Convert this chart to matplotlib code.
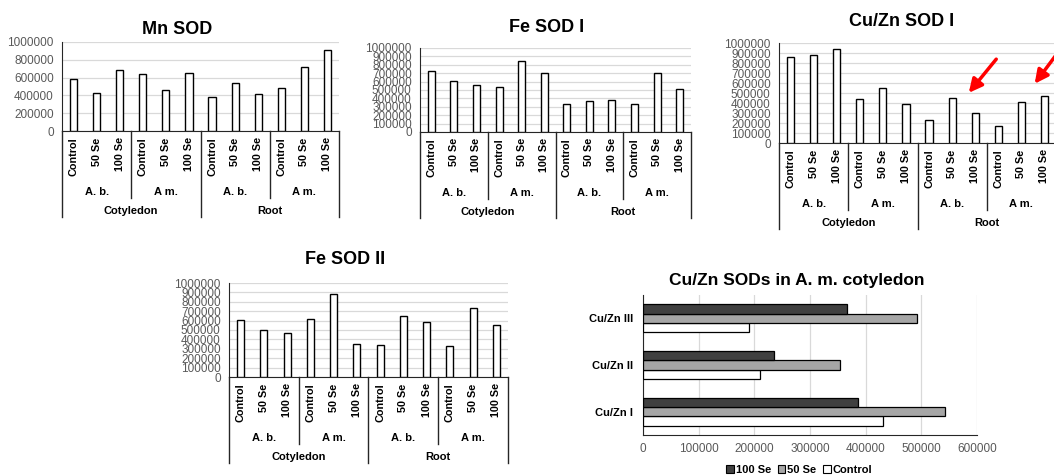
import matplotlib
matplotlib.use("Agg")
import matplotlib.pyplot as plt
from matplotlib.lines import Line2D
from matplotlib.patches import Patch
import numpy as np

plt.rcParams['font.family'] = ['Liberation Sans', 'DejaVu Sans']

# ---- data ----
treatments = ['Control', '50 Se', '100 Se']
species = ['A. b.', 'A m.']
tissues = ['Cotyledon', 'Root']

mn_sod = [581000, 423000, 687000, 638000, 464000, 653000,
          385000, 540000, 419000, 479000, 721000, 909000]
fe_sod1 = [723000, 605000, 561000, 541000, 850000, 700000,
           336000, 368000, 379000, 328000, 700000, 506000]
cuzn_sod1 = [857000, 877000, 937000, 437000, 547000, 387000,
             227000, 453000, 300000, 167000, 413000, 467000]
fe_sod2 = [604000, 500000, 471000, 621000, 886000, 350000,
           343000, 646000, 589000, 329000, 729000, 557000]

cuzn_forms = ['Cu/Zn I', 'Cu/Zn II', 'Cu/Zn III']
cuzn_control = [431000, 210000, 191000]
cuzn_50se = [543000, 353000, 493000]
cuzn_100se = [386000, 235000, 367000]

W, H = 1054, 475
fig = plt.figure(figsize=(W / 100, H / 100), dpi=100)
fig.patch.set_facecolor('white')

TICK_COLOR = '#595959'
GRID_COLOR = '#d9d9d9'
SPINE_COLOR = '#262626'


def rect(left, right, top, bottom):
    return [left / W, 1 - bottom / H, (right - left) / W, (bottom - top) / H]


def column_panel(r, values, title, title_xy, ystep):
    ax = fig.add_axes(r)
    n = len(values)
    x = np.arange(n)
    ax.bar(x, values, width=0.31, color='white', edgecolor='black', linewidth=1.0, zorder=3)
    ax.set_xlim(-0.5, n - 0.5)
    ax.set_ylim(0, 1000000)
    ax.set_yticks(np.arange(0, 1000001, ystep))
    ax.set_yticklabels([str(int(v)) for v in np.arange(0, 1000001, ystep)])
    ax.yaxis.grid(True, color=GRID_COLOR, linewidth=0.9, zorder=0)
    ax.set_axisbelow(True)
    for s in ['top', 'right']:
        ax.spines[s].set_visible(False)
    ax.spines['left'].set_color(SPINE_COLOR)
    ax.spines['bottom'].set_color(SPINE_COLOR)
    ax.tick_params(axis='y', length=0, pad=6, labelsize=8.5, labelcolor=TICK_COLOR)
    labels = [treatments[i % 3] for i in range(n)]
    ax.set_xticks(x)
    ax.set_xticklabels(labels, rotation=90, fontweight='bold', fontsize=7.8, va='top')
    ax.tick_params(axis='x', length=0, pad=4.5, labelcolor='black')

    hpx = r[3] * H
    tr = ax.get_xaxis_transform()
    # separator lines
    for xb in [-0.5, 5.5, 11.5]:
        ax.add_line(Line2D([xb, xb], [0, -86 / hpx], transform=tr, color=SPINE_COLOR,
                           linewidth=1.0, clip_on=False))
    for xb in [2.5, 8.5]:
        ax.add_line(Line2D([xb, xb], [0, -67 / hpx], transform=tr, color=SPINE_COLOR,
                           linewidth=1.0, clip_on=False))
    for gi in range(4):
        ax.text(gi * 3 + 1, -61 / hpx, species[gi % 2], transform=tr, ha='center', va='center',
                fontsize=8, fontweight='bold', color='black')
    for ti in range(2):
        ax.text(ti * 6 + 2.5, -80 / hpx, tissues[ti], transform=tr, ha='center', va='center',
                fontsize=8, fontweight='bold', color='black')
    fig.text(title_xy[0] / W, 1 - title_xy[1] / H, title, ha='center', va='center',
             fontsize=13, fontweight='bold', color='black')
    return ax


column_panel(rect(62, 339, 42, 131), mn_sod, 'Mn SOD', (177, 30), 200000)
column_panel(rect(420, 691, 48, 132), fe_sod1, 'Fe SOD I', (547, 27), 100000)
column_panel(rect(779, 1056, 43, 143), cuzn_sod1, 'Cu/Zn SOD I', (902, 22), 100000)
column_panel(rect(229, 508, 283, 377), fe_sod2, 'Fe SOD II', (345, 260), 100000)

# ---- horizontal bar panel ----
r5 = rect(643, 977, 295, 435)
ax5 = fig.add_axes(r5)
y = np.arange(len(cuzn_forms))
h = 0.2
ax5.barh(y - h, cuzn_control, height=h, color='white', edgecolor='black', linewidth=0.9,
         label='Control', zorder=3)
ax5.barh(y, cuzn_50se, height=h, color='#a6a6a6', edgecolor='black', linewidth=0.9,
         label='50 Se', zorder=3)
ax5.barh(y + h, cuzn_100se, height=h, color='#404040', edgecolor='black', linewidth=0.9,
         label='100 Se', zorder=3)
ax5.set_ylim(-0.5, 2.5)
ax5.set_xlim(0, 600000)
ax5.set_xticks(np.arange(0, 600001, 100000))
ax5.set_xticklabels([str(int(v)) for v in np.arange(0, 600001, 100000)])
ax5.set_yticks(y)
ax5.set_yticklabels(cuzn_forms, fontweight='bold', fontsize=8)
ax5.xaxis.grid(True, color=GRID_COLOR, linewidth=0.9, zorder=0)
ax5.set_axisbelow(True)
for s in ['top', 'right']:
    ax5.spines[s].set_visible(False)
ax5.spines['left'].set_color(SPINE_COLOR)
ax5.spines['bottom'].set_color(SPINE_COLOR)
ax5.tick_params(axis='x', length=0, pad=6, labelsize=8.5, labelcolor=TICK_COLOR)
ax5.tick_params(axis='y', length=0, pad=7, labelcolor='black')
handles = [Patch(facecolor='#404040', edgecolor='black', linewidth=0.8),
           Patch(facecolor='#a6a6a6', edgecolor='black', linewidth=0.8),
           Patch(facecolor='white', edgecolor='black', linewidth=0.8)]
leg = ax5.legend(handles, ['100 Se', '50 Se', 'Control'], loc='center',
                 bbox_to_anchor=((799 - 643) / 334, (435 - 470) / 140), ncol=3, frameon=False,
                 handlelength=0.7, handleheight=0.7, handletextpad=0.15, columnspacing=0.6,
                 prop={'weight': 'bold', 'size': 8})
fig.text(797 / W, 1 - 280 / H, 'Cu/Zn SODs in A. m. cotyledon', ha='center', va='center',
         fontsize=12.5, fontweight='bold', color='black')

# ---- red arrows ----
for (x0, y0), (x1, y1) in [((998, 57), (967, 95)), ((1062, 47), (1033, 86))]:
    fig.add_artist(matplotlib.patches.FancyArrowPatch(
        (x0 / W, 1 - y0 / H), (x1 / W, 1 - y1 / H), transform=fig.transFigure,
        arrowstyle='-|>', color='#ff0000', linewidth=2.5, mutation_scale=20))

fig.savefig('out.png', dpi=100, facecolor='white')
